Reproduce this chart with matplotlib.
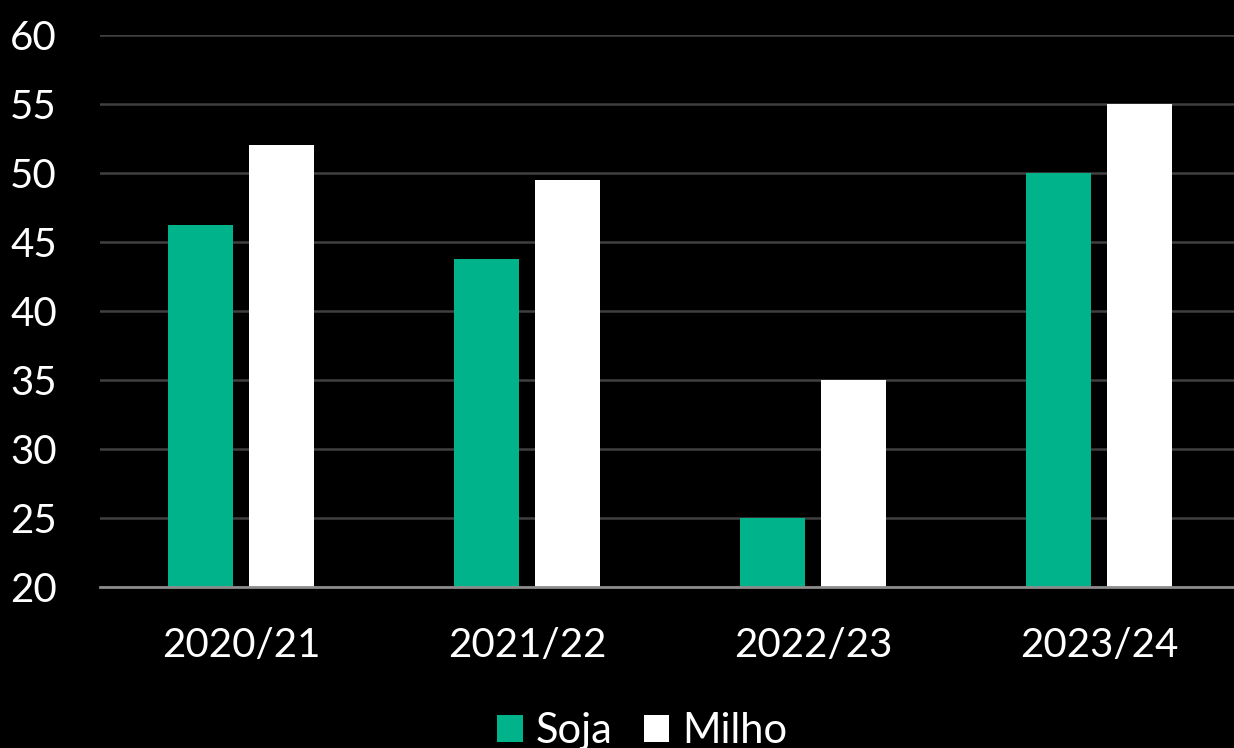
import numpy as np
import matplotlib
matplotlib.use("Agg")
import matplotlib.pyplot as plt

safras = ["2020/21", "2021/22", "2022/23", "2023/24"]
soja = [46.2, 43.8, 25.0, 50.0]
milho = [52.0, 49.5, 35.0, 55.0]
y_ticks = [20, 25, 30, 35, 40, 45, 50, 55, 60]

plt.rcParams['font.family'] = ['Lato', 'DejaVu Sans']

fig = plt.figure(figsize=(12.34, 7.48), dpi=100, facecolor='black')
ax = fig.add_axes([100 / 1234, (748 - 587) / 748, 1134 / 1234, (587 - 35) / 748])
ax.set_facecolor('black')

x = np.arange(len(safras))
w = 0.227
off = 0.1425
ax.bar(x - off, soja, w, color='#00B38A', label='Soja', zorder=3)
ax.bar(x + off, milho, w, color='white', label='Milho', zorder=3)

ax.set_ylim(20, 60)
ax.set_xlim(-0.493, 3.472)
ax.set_yticks(y_ticks)
ax.set_xticks(x)
ax.set_xticklabels(safras)
ax.tick_params(axis='both', length=0, colors='white', labelsize=29)
ax.tick_params(axis='y', pad=31)
ax.tick_params(axis='x', pad=29)

ax.grid(axis='y', color='#404040', linewidth=1.8, zorder=0)
for s in ['top', 'right', 'left']:
    ax.spines[s].set_visible(False)
ax.spines['bottom'].set_color('#8c8c8c')
ax.spines['bottom'].set_linewidth(2)
ax.spines['bottom'].set_zorder(4)

leg = ax.legend(loc='center', bbox_to_anchor=(642 / 1234, 17 / 748),
                bbox_transform=fig.transFigure, ncol=2, frameon=False,
                fontsize=30, handlelength=0.62, handleheight=0.62,
                handletextpad=0.3, columnspacing=0.75, labelcolor='white')

fig.savefig('out.png', dpi=100, facecolor='black')
